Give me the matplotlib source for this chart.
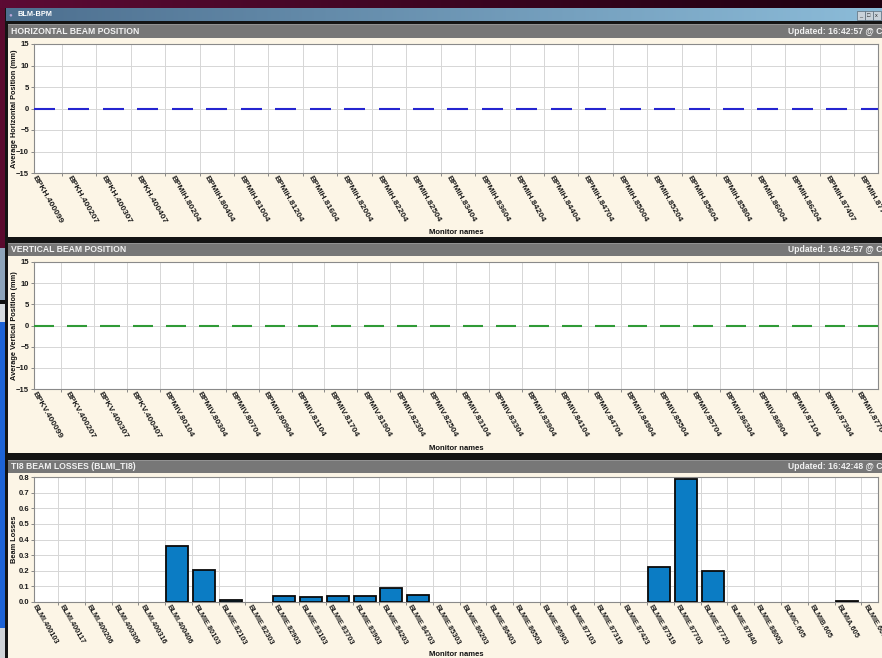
import numpy as np
import matplotlib
matplotlib.use("Agg")
import matplotlib.pyplot as plt
from matplotlib.patches import Rectangle
import matplotlib.transforms as mtransforms

plt.rcParams['font.family'] = ['Liberation Sans', 'DejaVu Sans']

W, H = 882, 658
DPI = 100

# ---------------- data ----------------
h_monitors = ["BPKH.400099", "BPKH.400207", "BPKH.400307", "BPKH.400407",
              "BPMIH.80204", "BPMIH.80404", "BPMIH.81004", "BPMIH.81204",
              "BPMIH.81604", "BPMIH.82004", "BPMIH.82204", "BPMIH.82504",
              "BPMIH.83404", "BPMIH.83604", "BPMIH.84204", "BPMIH.84404",
              "BPMIH.84704", "BPMIH.85004", "BPMIH.85204", "BPMIH.85604",
              "BPMIH.85804", "BPMIH.86004", "BPMIH.86204", "BPMIH.87407",
              "BPMIH.87704"]
h_positions = [0.0, 0.0, 0.0, 0.0, 0.0, 0.0, 0.0, 0.0, 0.0, 0.0, 0.0, 0.0,
               0.0, 0.0, 0.0, 0.0, 0.0, 0.0, 0.0, 0.0, 0.0, 0.0, 0.0, 0.0,
               0.0]

v_monitors = ["BPKV.400099", "BPKV.400207", "BPKV.400307", "BPKV.400407",
              "BPMIV.80104", "BPMIV.80304", "BPMIV.80704", "BPMIV.80904",
              "BPMIV.81104", "BPMIV.81704", "BPMIV.81904", "BPMIV.82304",
              "BPMIV.82504", "BPMIV.83104", "BPMIV.83304", "BPMIV.83904",
              "BPMIV.84104", "BPMIV.84704", "BPMIV.84904", "BPMIV.85504",
              "BPMIV.85704", "BPMIV.86304", "BPMIV.86904", "BPMIV.87104",
              "BPMIV.87304", "BPMIV.87704"]
v_positions = [0.0, 0.0, 0.0, 0.0, 0.0, 0.0, 0.0, 0.0, 0.0, 0.0, 0.0, 0.0,
               0.0, 0.0, 0.0, 0.0, 0.0, 0.0, 0.0, 0.0, 0.0, 0.0, 0.0, 0.0,
               0.0, 0.0]

blm_monitors = ["BLMI.400103", "BLMI.400117", "BLMI.400206", "BLMI.400306",
                "BLMI.400316", "BLMI.400406", "BLMIE.80103", "BLMIE.82103",
                "BLMIE.82303", "BLMIE.82903", "BLMIE.83103", "BLMIE.83703",
                "BLMIE.83903", "BLMIE.84203", "BLMIE.84703", "BLMIE.85303",
                "BLMIE.86203", "BLMIE.86403", "BLMIE.86503", "BLMIE.86903",
                "BLMIE.87103", "BLMIE.87319", "BLMIE.87423", "BLMIE.87519",
                "BLMIE.87703", "BLMIE.87720", "BLMIE.87840", "BLMIE.88003",
                "BLMIC.605", "BLMIB.605", "BLMIA.605", "BLMIE.6005"]
blm_losses = [0.0, 0.0, 0.0, 0.0, 0.0, 0.36, 0.205, 0.013, 0.0, 0.04,
              0.034, 0.038, 0.036, 0.087, 0.043, 0.0, 0.0, 0.0, 0.0, 0.0,
              0.0, 0.0, 0.0, 0.222, 0.79, 0.2, 0.0, 0.0, 0.0, 0.0,
              0.005, 0.0]

h_title = "HORIZONTAL BEAM POSITION"
v_title = "VERTICAL BEAM POSITION"
b_title = "TI8 BEAM LOSSES (BLMI_TI8)"
h_updated = "Updated: 16:42:57 @ C"
v_updated = "Updated: 16:42:57 @ C"
b_updated = "Updated: 16:42:48 @ C"

# ---------------- figure & window chrome ----------------
fig = plt.figure(figsize=(W / DPI, H / DPI), dpi=DPI)
bg = fig.add_axes([0, 0, 1, 1], zorder=0)
bg.set_axis_off()


def rect(x0, y0, x1, y1, color, **kw):
    bg.add_patch(Rectangle((x0, y0), x1 - x0, y1 - y0, facecolor=color,
                           edgecolor=kw.pop('edgecolor', 'none'), **kw))


def hgrad(x0, y0, x1, y1, c0, c1):
    c0 = np.array(matplotlib.colors.to_rgb(c0))
    c1 = np.array(matplotlib.colors.to_rgb(c1))
    t = np.linspace(0, 1, 256)[None, :, None]
    img = c0 + (c1 - c0) * t
    bg.imshow(img, extent=(x0, x1, y1, y0), aspect='auto',
              interpolation='bilinear', zorder=1)


# desktop behind the window
rect(0, 0, W, H, '#5a0a2e')
hgrad(0, 0, W, 8, '#5c0b34', '#1e0010')
rect(0, 248, 6, 300, '#8ea4ba', zorder=1)
rect(0, 300, 6, 304, '#101010', zorder=1)
rect(0, 304, 6, 322, '#d8dce0', zorder=1)
rect(0, 322, 6, 628, '#1d63d6', zorder=1)
rect(0, 628, 6, H, '#d0d4d8', zorder=1)

# window frame and title bar
rect(5, 8, W, H, '#141414', zorder=1)
hgrad(6, 8, W, 21, '#4d6f8f', '#8cbcd9')
bg.text(10.5, 14.5, "\u25CF", color='#b9a6d8', fontsize=4.5, ha='center',
        va='center', zorder=3)
bg.text(18, 14.8, "BLM-BPM", color='white', fontsize=5.3, fontweight='bold',
        ha='left', va='center', zorder=3)
for bx, glyph in zip([857, 865, 873], ["_", "\u25A1", "x"]):
    rect(bx, 11, bx + 7.5, 20, '#c9d2da', edgecolor='#5c6c7a', linewidth=0.5,
         zorder=3)
    bg.text(bx + 3.75, 15.5, glyph, fontsize=4, ha='center', va='center',
            color='#222222', zorder=4)

PANEL_BG = '#fcf5e6'
HEADER = '#777777'

panels = [
    dict(head=(24, 38), body=(38, 237), plot=(44, 173), title=h_title,
         updated=h_updated, xlabel_y=232),
    dict(head=(243, 256), body=(256, 453), plot=(262, 389), title=v_title,
         updated=v_updated, xlabel_y=448),
    dict(head=(460, 473), body=(473, H), plot=(477, 602), title=b_title,
         updated=b_updated, xlabel_y=654),
]

for p in panels:
    h0, h1 = p['head']
    rect(8, h0, W, h1, HEADER, zorder=2)
    rect(8, h0, W, h0 + 1, '#929292', zorder=2)
    rect(8, p['body'][0], W, p['body'][1], PANEL_BG, zorder=2)
    yc = (h0 + h1) / 2 + 0.3
    bg.text(11, yc, p['title'], color='#f2f2f2', fontsize=6.2,
            fontweight='bold', ha='left', va='center', zorder=3)
    bg.text(788, yc, p['updated'], color='#f2f2f2', fontsize=6.2,
            fontweight='bold', ha='left', va='center', zorder=3)
    bg.text(456, p['xlabel_y'], "Monitor names", color='#111111',
            fontsize=5.5, fontweight='bold', ha='center', va='center',
            zorder=3)

bg.set_xlim(0, W)
bg.set_ylim(H, 0)

# ---------------- plot areas ----------------
PX0, PX1 = 34, 878


def make_axes(y0, y1):
    return fig.add_axes([PX0 / W, 1 - y1 / H, (PX1 - PX0) / W, (y1 - y0) / H],
                        zorder=5)


def style_axes(ax, names, left, spacing, boundary, label_dx, label_fs):
    n = len(names)
    x = np.arange(n)
    ax.set_facecolor('white')
    ax.set_xticks(x)
    ax.set_xticklabels(names)
    ax.set_xticks(x - boundary, minor=True)
    ax.tick_params(axis='x', which='major', length=0, pad=2.6)
    ax.tick_params(axis='x', which='minor', length=2.5, width=0.6,
                   color='#777777')
    ax.tick_params(axis='y', which='major', length=2, width=0.6,
                   color='#777777', pad=1.5, labelsize=5.5)
    ax.grid(True, axis='x', which='minor', color='#d6d6d6', linewidth=0.7)
    ax.grid(True, axis='y', which='major', color='#d6d6d6', linewidth=0.7)
    ax.set_axisbelow(True)
    for sp in ax.spines.values():
        sp.set_color('#8a8a8a')
        sp.set_linewidth(0.8)
    offset = mtransforms.ScaledTranslation(label_dx / DPI, 0,
                                           fig.dpi_scale_trans)
    for lab in ax.get_xticklabels():
        lab.set_rotation(-60)
        lab.set_rotation_mode('anchor')
        lab.set_ha('left')
        lab.set_va('center')
        lab.set_fontsize(label_fs)
        lab.set_fontweight('bold')
        lab.set_color('#1a1a1a')
        lab.set_transform(lab.get_transform() + offset)
    # view limits last, so the tick positions do not widen them
    ax.set_xlim(left, left + (PX1 - PX0) / spacing)
    return x


def bold_yticks(ax):
    for lab in ax.get_yticklabels():
        lab.set_fontweight('bold')
        lab.set_color('#1a1a1a')


YLAB_X = -0.0195

# horizontal beam position
ax1 = make_axes(*panels[0]['plot'])
x1 = style_axes(ax1, h_monitors, -0.305, 34.45, 0.5, -10.5, 6)
ax1.hlines(h_positions, x1 - 0.305, x1 + 0.305, color='#2525d0',
           linewidth=1.5, zorder=3)
ax1.set_ylim(-15, 15)
ax1.set_yticks([-15, -10, -5, 0, 5, 10, 15])
bold_yticks(ax1)
ax1.set_ylabel("Average Horizontal Position (mm)", fontsize=5.3,
               fontweight='bold', color='#111111')
ax1.yaxis.set_label_coords(YLAB_X, 0.5)

# vertical beam position
ax2 = make_axes(*panels[1]['plot'])
x2 = style_axes(ax2, v_monitors, -0.316, 32.95, 0.5, -10.5, 6)
ax2.hlines(v_positions, x2 - 0.303, x2 + 0.303, color='#2f9a36',
           linewidth=1.5, zorder=3)
ax2.set_ylim(-15, 15)
ax2.set_yticks([-15, -10, -5, 0, 5, 10, 15])
bold_yticks(ax2)
ax2.set_ylabel("Average Vertical Position (mm)", fontsize=5.3,
               fontweight='bold', color='#111111')
ax2.yaxis.set_label_coords(YLAB_X, 0.5)

# beam losses (empty channels get no outline)
ax3 = make_axes(*panels[2]['plot'])
x3 = style_axes(ax3, blm_monitors, -0.344, 26.78, 0.45, -9, 5.3)
edge_w = [1.3 if v > 0 else 0.0 for v in blm_losses]
ax3.bar(x3, blm_losses, width=0.82, color='#0b7cc4', edgecolor='#0a0a0a',
        linewidth=edge_w, zorder=3)
ax3.set_xlim(-0.344, -0.344 + (PX1 - PX0) / 26.78)
ax3.set_ylim(0, 0.8)
ticks3 = np.round(np.arange(0, 0.81, 0.1), 1)
ax3.set_yticks(ticks3)
ax3.set_yticklabels([f"{v:.1f}" for v in ticks3])
bold_yticks(ax3)
ax3.set_ylabel("Beam Losses", fontsize=5.3, fontweight='bold',
               color='#111111')
ax3.yaxis.set_label_coords(YLAB_X, 0.5)

fig.savefig("out.png", dpi=DPI)
